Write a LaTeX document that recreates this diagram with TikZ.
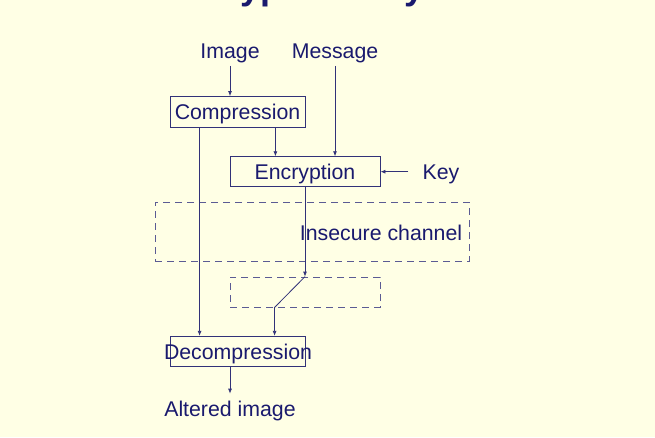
\documentclass[tikz,border=0pt]{standalone}
\usepackage{fontspec}
\setmainfont{Liberation Sans}
\usetikzlibrary{arrows.meta, positioning}
\definecolor{paperyellow}{RGB}{255, 255, 229}
\definecolor{inknavy}{RGB}{26, 26, 110}
\definecolor{linenavy}{RGB}{50, 50, 120}

\begin{document}
\begin{tikzpicture}[
    x=1pt, y=-1pt,
    font=\fontsize{21.3}{24}\selectfont, text=inknavy,
    box/.style={draw=linenavy, line width=0.8pt, inner sep=0pt, text height=15.3pt, text depth=0pt},
    zone/.style={draw=linenavy!80, line width=0.8pt, dash pattern=on 7pt off 5pt, inner sep=0pt},
    tag/.style={inner xsep=14pt, inner ysep=7pt, text height=15.3pt, text depth=0pt},
    wire/.style={draw=linenavy, line width=0.8pt},
    arrow/.style={wire, -{Latex[length=5pt, width=4pt]}}
]
\useasboundingbox (0,0) rectangle (655,437);
\clip (0,0) rectangle (655,437);
\fill[paperyellow] (0,0) rectangle (655,437);

\node[font=\bfseries\fontsize{36}{40}\selectfont, anchor=base west, inner sep=0pt] (title) at (160,-1) {Encryption Key};

\node[tag] (image) at (230,51) {Image};
\node[tag] (msg) at (335,51) {Message};
\node[box, minimum width=135pt, minimum height=31pt] (comp) at (237.5,112) {Compression};
\node[box, minimum width=150pt, minimum height=30pt] (enc) at (305,171.7) {Encryption};
\node[tag, right=28pt of enc] (key) {Key};
\node[zone, minimum width=314pt, minimum height=59pt] (chan) at (312,231.5) {};
\node[tag, anchor=east] (chanlabel) at ([xshift=7pt, yshift=-1pt]chan.east) {Insecure channel};
\node[zone, minimum width=150pt, minimum height=30pt] (hop) at (305,292) {};
\coordinate (tap) at ([xshift=45pt]hop.south west);
\node[box, minimum width=135pt, minimum height=30.5pt] (decomp) at (238,351.5) {\makebox[0pt]{Decompression}};
\node[tag] (alt) at (230,408.5) {Altered image};

\draw[arrow] (image.south) -- (image.south |- comp.north);
\draw[arrow] (msg.south) -- (msg.south |- enc.north);
\draw[arrow] ([xshift=-30pt]comp.south east) -- ([xshift=-30pt]comp.south east |- enc.north);
\draw[arrow] (key.west) -- (enc.east);
\draw[arrow] ([xshift=30pt]comp.south west) -- ([xshift=30pt]comp.south west |- decomp.north);
\draw[arrow] (enc.south) -- (enc.south |- hop.north);
\draw[wire] (hop.north) -- (tap);
\draw[arrow] (tap) -- (tap |- decomp.north);
\draw[arrow] (alt.north |- decomp.south) -- (alt.north);

\end{tikzpicture}
\end{document}
